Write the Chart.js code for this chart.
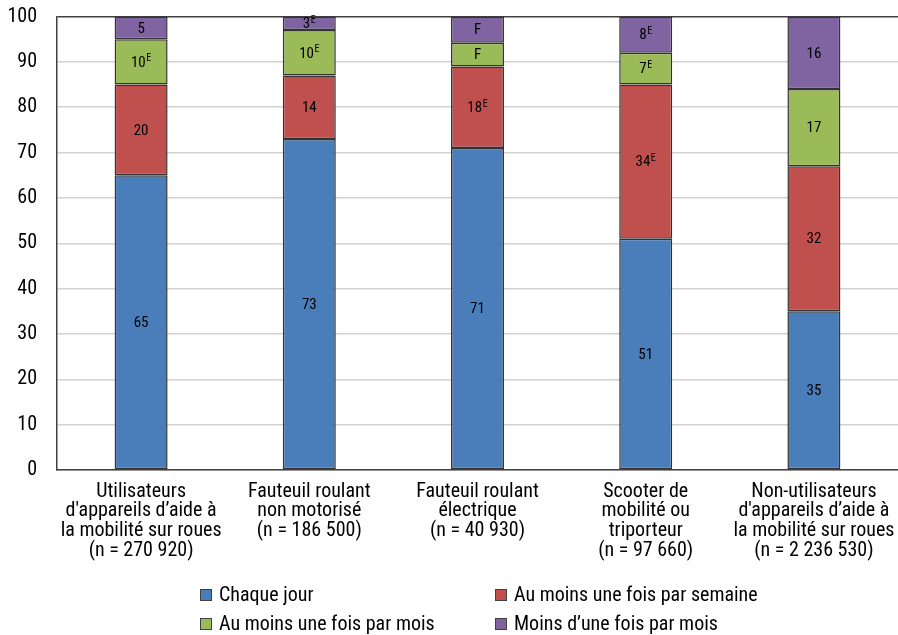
<!DOCTYPE html>
<html lang="fr">
<head>
<meta charset="utf-8">
<title>Fréquence d'utilisation</title>
<script src="https://cdn.jsdelivr.net/npm/chart.js@4/dist/chart.umd.min.js"></script>
<style>
  html, body { margin: 0; padding: 0; background: #ffffff; }
  #wrap { position: relative; width: 898px; height: 635px; }
</style>
</head>
<body>
<div id="wrap"><canvas id="chart" width="898" height="635"></canvas></div>
<script>
// Categories (multi-line labels)
const categories = [
  ["Utilisateurs", "d'appareils d\u2019aide à", "la mobilité sur roues", "(n = 270 920)"],
  ["Fauteuil roulant", "non motorisé", "(n = 186 500)"],
  ["Fauteuil roulant", "électrique", "(n = 40 930)"],
  ["Scooter de", "mobilité ou", "triporteur", "(n = 97 660)"],
  ["Non-utilisateurs", "d'appareils d\u2019aide à", "la mobilité sur roues", "(n = 2 236 530)"]
];

// Percentages by frequency
const chaqueJour = [65, 73, 71, 51, 35];
const parSemaine = [20, 14, 18, 34, 32];
const parMois = [10, 10, 5.2, 7, 17];
const moinsMois = [5, 3, 5.8, 8, 16];

// Quality flags: E = use with caution, F = too unreliable to be published
const flagsJour = ["", "", "", "", ""];
const flagsSemaine = ["", "", "E", "E", ""];
const flagsMois = ["E", "E", "F", "E", ""];
const flagsMoinsMois = ["", "E", "F", "E", ""];

const seriesNames = [
  "Chaque jour",
  "Au moins une fois par semaine",
  "Au moins une fois par mois",
  "Moins d\u2019une fois par mois"
];
const yTicks = [0, 10, 20, 30, 40, 50, 60, 70, 80, 90, 100];

const FONT = "'Roboto Condensed', 'Liberation Sans Narrow', 'Arial Narrow', 'Liberation Sans', sans-serif";
const colors = ["#4a7ebb", "#c0504d", "#9bbb59", "#8064a2"];

const flagSets = [flagsJour, flagsSemaine, flagsMois, flagsMoinsMois];

// Segment value labels with superscript quality flag
const segmentLabels = {
  id: "segmentLabels",
  afterDatasetsDraw(chart) {
    const ctx = chart.ctx;
    ctx.save();
    ctx.fillStyle = "#000";
    ctx.textBaseline = "middle";
    chart.data.datasets.forEach((ds, di) => {
      const meta = chart.getDatasetMeta(di);
      meta.data.forEach((bar, i) => {
        const flag = flagSets[di][i];
        const main = flag === "F" ? "F" : String(Math.round(ds.data[i]));
        const sup = flag === "E" ? "E" : "";
        const cy = (bar.y + bar.base) / 2 + 1;
        ctx.font = "15px " + FONT;
        const wMain = ctx.measureText(main).width;
        ctx.font = "10px " + FONT;
        const wSup = sup ? ctx.measureText(sup).width + 0.5 : 0;
        const x0 = bar.x - (wMain + wSup) / 2;
        ctx.textAlign = "left";
        ctx.font = "15px " + FONT;
        ctx.fillText(main, x0, cy);
        if (sup) {
          ctx.font = "10px " + FONT;
          ctx.fillText(sup, x0 + wMain + 0.5, cy - 4);
        }
      });
    });
    ctx.restore();
  }
};

// Two-column legend beneath the plot
const gridLegend = {
  id: "gridLegend",
  afterDraw(chart) {
    const ctx = chart.ctx;
    const colX = [200, 495];
    const rowY = [595, 624];
    ctx.save();
    ctx.font = "20px " + FONT;
    ctx.textBaseline = "middle";
    ctx.textAlign = "left";
    chart.data.datasets.forEach((ds, i) => {
      const x = colX[i % 2];
      const y = rowY[Math.floor(i / 2)];
      ctx.fillStyle = ds.backgroundColor;
      ctx.fillRect(x, y - 6, 12, 12);
      ctx.strokeStyle = "#404040";
      ctx.lineWidth = 1;
      ctx.strokeRect(x + 0.5, y - 5.5, 11, 11);
      ctx.fillStyle = "#000";
      ctx.fillText(ds.label, x + 19, y + 1);
    });
    ctx.restore();
  }
};

const values = [chaqueJour, parSemaine, parMois, moinsMois];

new Chart(document.getElementById("chart"), {
  type: "bar",
  data: {
    labels: categories,
    datasets: values.map((v, i) => ({
      label: seriesNames[i],
      data: v,
      backgroundColor: colors[i],
      borderColor: "#333333",
      borderWidth: 1.5,
      borderSkipped: false,
      barPercentage: 0.315,
      categoryPercentage: 1
    }))
  },
  options: {
    responsive: false,
    animation: false,
    devicePixelRatio: 1,
    layout: { padding: { top: 16.5, right: 0, left: 0, bottom: 0 } },
    plugins: {
      legend: { display: false },
      tooltip: { enabled: false }
    },
    scales: {
      x: {
        stacked: true,
        grid: { display: false, drawTicks: false },
        border: { display: true, color: "#404040", width: 1.5 },
        ticks: {
          color: "#000",
          font: { family: FONT, size: 20, lineHeight: 0.98 },
          padding: 12,
          maxRotation: 0,
          autoSkip: false
        },
        afterFit(scale) {
          scale.height = 165;
          scale.paddingLeft = 0; scale.paddingRight = 0;
          scale.paddingTop = 0; scale.paddingBottom = 0;
        }
      },
      y: {
        stacked: true,
        min: 0,
        max: 100,
        afterBuildTicks(scale) { scale.ticks = yTicks.map(v => ({ value: v })); },
        grid: {
          drawTicks: false,
          color: (c) => (c.tick && c.tick.value === 100) ? "#404040" : "#d2d2d2",
          lineWidth: 1.5
        },
        border: { display: true, color: "#404040", width: 1.5 },
        ticks: {
          color: "#000",
          font: { family: FONT, size: 20 },
          padding: 20
        },
        afterFit(scale) {
          scale.width = 57;
          scale.paddingTop = 0; scale.paddingBottom = 0;
          scale.paddingLeft = 0; scale.paddingRight = 0;
        }
      }
    }
  },
  plugins: [segmentLabels, gridLegend]
});
</script>
</body>
</html>
